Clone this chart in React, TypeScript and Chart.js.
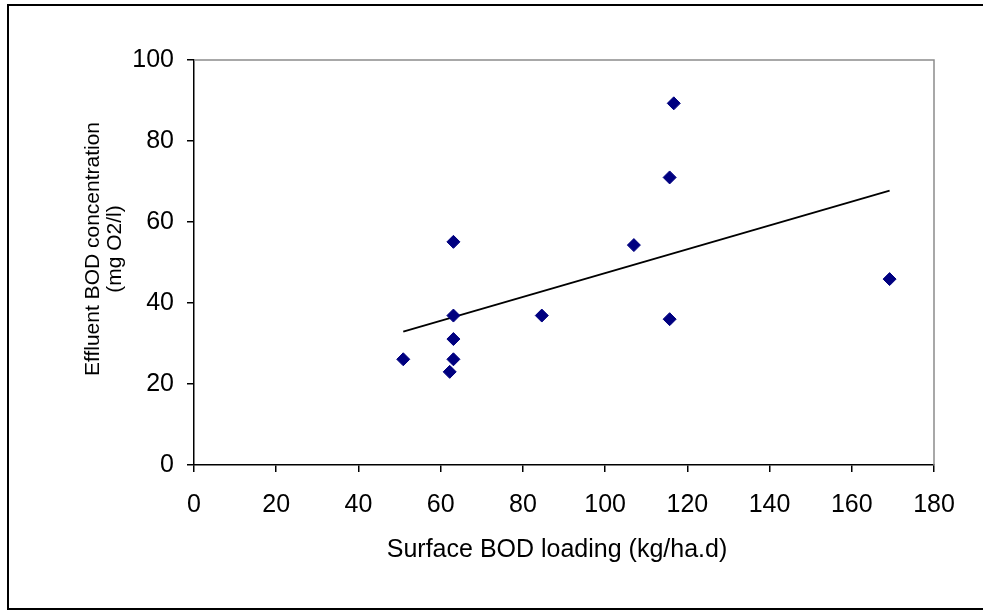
import React, { useEffect, useRef } from "react";
import { Chart, registerables } from "chart.js";

Chart.register(...registerables);

// Data
const loadingValues = [63.1, 107, 63.1, 84.6, 115.7, 63.1, 50.9, 63.1, 62.2, 116.7, 115.7, 169.2];
const effluentValues = [55.1, 54.3, 36.9, 36.9, 36.0, 31.1, 26.1, 26.1, 23.0, 89.3, 71.0, 45.9];

const xTitle = "Surface BOD loading (kg/ha.d)";
const yTitleLines = ["Effluent BOD concentration", "(mg O2/l)"];
const xMin = 0, xMax = 180, xStep = 20;
const yMin = 0, yMax = 100, yStep = 20;

function linearFit(xs: number[], ys: number[]) {
  const n = xs.length;
  const mx = xs.reduce((a, b) => a + b, 0) / n;
  const my = ys.reduce((a, b) => a + b, 0) / n;
  let sxy = 0, sxx = 0;
  for (let i = 0; i < n; i++) {
    sxy += (xs[i] - mx) * (ys[i] - my);
    sxx += (xs[i] - mx) * (xs[i] - mx);
  }
  const slope = sxy / sxx;
  return { slope, intercept: my - slope * mx };
}

const FONT = "'Liberation Sans', Arial, sans-serif";

const framePlugin = {
  id: "framePlugin",
  beforeDraw(chart: any) {
    const ctx = chart.ctx;
    ctx.save();
    ctx.fillStyle = "#ffffff";
    ctx.fillRect(0, 0, chart.width, chart.height);
    ctx.restore();
  },
  afterDraw(chart: any) {
    const ctx = chart.ctx;
    const a = chart.chartArea;
    ctx.save();
    // outer border
    ctx.strokeStyle = "#000000";
    ctx.lineWidth = 2;
    ctx.strokeRect(8, 5, chart.width + 20, chart.height - 6);
    // grey top/right plot border
    ctx.strokeStyle = "#8c8c8c";
    ctx.lineWidth = 1.5;
    ctx.beginPath();
    ctx.moveTo(a.left, a.top);
    ctx.lineTo(a.right, a.top);
    ctx.lineTo(a.right, a.bottom);
    ctx.stroke();
    // titles
    ctx.fillStyle = "#000000";
    ctx.textAlign = "center";
    ctx.textBaseline = "alphabetic";
    ctx.font = `25px ${FONT}`;
    ctx.fillText(xTitle, 557, 557);
    ctx.font = `21px ${FONT}`;
    ctx.translate(0, 249);
    ctx.rotate(-Math.PI / 2);
    ctx.fillText(yTitleLines[0], 0, 99);
    ctx.fillText(yTitleLines[1], 0, 121);
    ctx.restore();
  },
};

export default function App() {
  const ref = useRef<HTMLCanvasElement | null>(null);
  useEffect(() => {
    document.body.style.margin = "0";
    const fit = linearFit(loadingValues, effluentValues);
    const lo = Math.min(...loadingValues);
    const hi = Math.max(...loadingValues);
    const chart = new Chart(ref.current as HTMLCanvasElement, {
      type: "scatter",
      data: {
        datasets: [
          {
            type: "scatter",
            data: loadingValues.map((x, i) => ({ x, y: effluentValues[i] })),
            pointStyle: "rectRot",
            pointRadius: 6.5,
            pointBackgroundColor: "#000080",
            pointBorderColor: "#000080",
            pointBorderWidth: 1,
            order: 1,
          },
          {
            type: "line",
            data: [
              { x: lo, y: fit.intercept + fit.slope * lo },
              { x: hi, y: fit.intercept + fit.slope * hi },
            ],
            borderColor: "#000000",
            borderWidth: 1.8,
            pointRadius: 0,
            fill: false,
            order: 2,
          } as any,
        ],
      },
      options: {
        animation: false,
        responsive: false,
        maintainAspectRatio: false,
        layout: { padding: { left: 0, top: 60, right: 49, bottom: 0 } },
        plugins: { legend: { display: false }, tooltip: { enabled: false } },
        scales: {
          x: {
            type: "linear",
            min: xMin,
            max: xMax,
            ticks: { stepSize: xStep, color: "#000", font: { family: FONT, size: 25 }, padding: 18, maxRotation: 0 },
            grid: { drawOnChartArea: false, drawTicks: true, tickLength: 7, color: "#000", lineWidth: 1.5 },
            border: { display: true, color: "#000", width: 1.5 },
            afterFit: (s: any) => { s.height = 145; },
          },
          y: {
            type: "linear",
            min: yMin,
            max: yMax,
            ticks: { stepSize: yStep, color: "#000", font: { family: FONT, size: 25 }, padding: 13 },
            grid: { drawOnChartArea: false, drawTicks: true, tickLength: 7, color: "#000", lineWidth: 1.5 },
            border: { display: true, color: "#000", width: 1.5 },
            afterFit: (s: any) => { s.width = 194; },
          },
        },
      },
      plugins: [framePlugin],
    });
    return () => chart.destroy();
  }, []);
  return (
    <div style={{ width: 983, height: 610 }}>
      <canvas ref={ref} width={983} height={610} style={{ display: "block" }} />
    </div>
  );
}
